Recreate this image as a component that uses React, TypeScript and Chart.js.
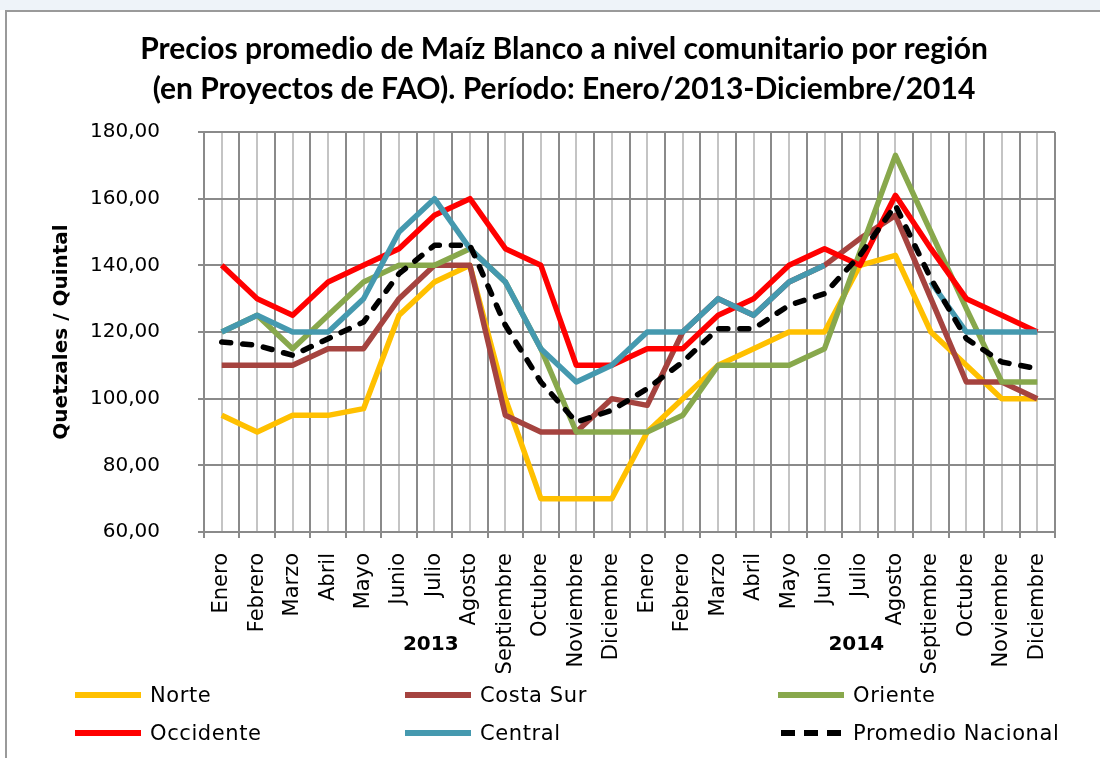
import React, { useEffect, useRef } from 'react';
import { Chart, registerables } from 'chart.js';

Chart.register(...registerables);

const months = ['Enero', 'Febrero', 'Marzo', 'Abril', 'Mayo', 'Junio', 'Julio', 'Agosto', 'Septiembre', 'Octubre', 'Noviembre', 'Diciembre'];
const categories = [...months, ...months];
const years = ['2013', '2014'];

const norte = [95, 90, 95, 95, 97, 125, 135, 140, 100, 70, 70, 70, 90, 100, 110, 115, 120, 120, 140, 143, 120, 110, 100, 100];
const costaSur = [110, 110, 110, 115, 115, 130, 140, 140, 95, 90, 90, 100, 98, 120, 130, 125, 135, 140, 148, 155, 130, 105, 105, 100];
const oriente = [120, 125, 115, 125, 135, 140, 140, 145, 135, 115, 90, 90, 90, 95, 110, 110, 110, 115, 144, 173, 150, 127, 105, 105];
const occidente = [140, 130, 125, 135, 140, 145, 155, 160, 145, 140, 110, 110, 115, 115, 125, 130, 140, 145, 140, 161, 145, 130, 125, 120];
const central = [120, 125, 120, 120, 130, 150, 160, 145, 135, 115, 105, 110, 120, 120, 130, 125, 135, 140, null, null, 135, 120, 120, 120];
const promedio = [117, 116, 113, 118, 123, 137.5, 146, 146, 122, 105, 93, 96.5, 103, 111, 121, 121, 128, 131.5, 143, 158, 136, 118, 111, 109];

const seriesNames = ['Norte', 'Costa Sur', 'Oriente', 'Occidente', 'Central', 'Promedio Nacional'];
const seriesValues = [norte, costaSur, oriente, occidente, central, promedio];
const seriesColors = ['#FFC000', '#A5433F', '#88A84C', '#FF0000', '#4599AF', '#000000'];

const yMin = 60;
const yMax = 180;
const yStep = 20;

const titleLines = [
  'Precios promedio de Maíz Blanco a nivel comunitario por región',
  '(en Proyectos de FAO). Período: Enero/2013-Diciembre/2014',
];
const yTitle = 'Quetzales / Quintal';

const minorGrid = {
  id: 'minorGrid',
  beforeDraw(chart: any) {
    const { ctx, chartArea, scales } = chart;
    const x = scales.x;
    ctx.save();
    ctx.strokeStyle = '#c4c4c4';
    ctx.lineWidth = 2;
    categories.forEach((_, i) => {
      const px = Math.round(x.getPixelForValue(i));
      ctx.beginPath();
      ctx.moveTo(px, chartArea.top);
      ctx.lineTo(px, chartArea.bottom);
      ctx.stroke();
    });
    ctx.restore();
  },
};

const yearLabels = {
  id: 'yearLabels',
  afterDraw(chart: any) {
    const { ctx, scales } = chart;
    const x = scales.x;
    ctx.save();
    ctx.font = 'bold 20px "DejaVu Sans"';
    ctx.fillStyle = '#000';
    ctx.textAlign = 'center';
    ctx.textBaseline = 'middle';
    years.forEach((yr, g) => {
      const a = x.getPixelForValue(g * 12 + 5);
      const b = x.getPixelForValue(g * 12 + 6);
      ctx.fillText(yr, (a + b) / 2 + 14, x.top + 113);
    });
    ctx.restore();
  },
};

function LegendSwatch({ color, dashed }: { color: string; dashed: boolean }) {
  return (
    <svg width={66} height={10} style={{ display: 'block' }}>
      <line
        x1={dashed ? 3 : 0}
        y1={5}
        x2={dashed ? 63 : 66}
        y2={5}
        stroke={color}
        strokeWidth={6}
        strokeDasharray={dashed ? '14 9' : undefined}
        strokeLinecap={dashed ? 'butt' : 'round'}
      />
    </svg>
  );
}

export default function App() {
  const canvasRef = useRef<HTMLCanvasElement | null>(null);

  useEffect(() => {
    const canvas = canvasRef.current;
    if (!canvas) return;
    const datasets = seriesValues.map((data, i) => ({
      label: seriesNames[i],
      data,
      borderColor: seriesColors[i],
      backgroundColor: seriesColors[i],
      borderWidth: 5.5,
      pointRadius: 0,
      pointHoverRadius: 0,
      tension: 0,
      fill: false,
      spanGaps: false,
      borderJoinStyle: 'round' as const,
      borderCapStyle: (i === 5 ? 'round' : 'butt') as any,
      borderDash: i === 5 ? [9, 12] : [],
      order: seriesValues.length - i,
    }));
    const chart = new Chart(canvas, {
      type: 'line',
      data: { labels: categories, datasets },
      options: {
        responsive: false,
        animation: false,
        devicePixelRatio: 1,
        layout: { padding: { left: 0, top: 132, right: 45, bottom: 76 } },
        plugins: {
          legend: { display: false },
          title: { display: false },
          tooltip: { enabled: false },
        },
        scales: {
          x: {
            type: 'category',
            offset: true,
            grid: { offset: true, color: '#8a8a8a', lineWidth: 2, tickLength: 6, drawTicks: true },
            border: { display: true, color: '#8a8a8a', width: 2 },
            ticks: {
              autoSkip: false,
              maxRotation: 90,
              minRotation: 90,
              padding: 15,
              color: '#000',
              font: { family: '"DejaVu Sans"', size: 21 },
            },
            afterFit: (s: any) => {
              s.height = 150;
            },
          },
          y: {
            min: yMin,
            max: yMax,
            grid: { color: '#8a8a8a', lineWidth: 2, tickLength: 6 },
            border: { display: true, color: '#8a8a8a', width: 2 },
            ticks: {
              stepSize: yStep,
              padding: 38,
              color: '#000',
              font: { family: '"DejaVu Sans"', size: 20 },
              callback: (v: any) => Number(v).toFixed(2).replace('.', ','),
            },
            afterFit: (s: any) => {
              s.width = 204;
            },
          },
        },
      },
      plugins: [minorGrid, yearLabels],
    });
    return () => chart.destroy();
  }, []);

  return (
    <div style={{ position: 'absolute', left: 0, top: 0, width: 1100, height: 758, background: '#fff', overflow: 'hidden' }}>
      <div style={{ position: 'absolute', left: 0, top: 0, width: 1100, height: 10, background: '#eef3f9' }} />
      <div
        style={{
          position: 'absolute',
          left: 5,
          top: 10,
          width: 1095,
          height: 748,
          borderTop: '2px solid #9a9a9a',
          borderLeft: '2px solid #9a9a9a',
          boxSizing: 'border-box',
        }}
      />
      <canvas ref={canvasRef} width={1100} height={758} style={{ position: 'absolute', left: 0, top: 0, width: 1100, height: 758 }} />
      <div
        style={{
          position: 'absolute',
          left: 0,
          top: 27,
          width: 1128,
          textAlign: 'center',
          fontFamily: 'Lato, sans-serif',
          fontWeight: 700,
          fontSize: 30,
          lineHeight: '40px',
          color: '#000',
        }}
      >
        {titleLines.map((t) => (
          <div key={t}>{t}</div>
        ))}
      </div>
      <div
        style={{
          position: 'absolute',
          left: 60 - 150,
          top: 332 - 14,
          width: 300,
          height: 28,
          lineHeight: '28px',
          textAlign: 'center',
          transform: 'rotate(-90deg)',
          fontFamily: '"DejaVu Sans", sans-serif',
          fontWeight: 700,
          fontSize: 20,
          color: '#000',
        }}
      >
        {yTitle}
      </div>
      {seriesNames.map((name, i) => {
        const col = i % 3;
        const row = Math.floor(i / 3);
        const lineLeft = [75, 405, 778][col];
        const cy = [695, 733][row];
        return (
          <div key={name} style={{ position: 'absolute', left: lineLeft, top: cy - 14, height: 28, display: 'flex', alignItems: 'center' }}>
            <LegendSwatch color={seriesColors[i]} dashed={i === 5} />
            <span
              style={{
                marginLeft: 9,
                fontFamily: '"DejaVu Sans", sans-serif',
                fontSize: 21,
                letterSpacing: 0.6,
                color: '#000',
                whiteSpace: 'nowrap',
                lineHeight: '28px',
              }}
            >
              {name}
            </span>
          </div>
        );
      })}
    </div>
  );
}
